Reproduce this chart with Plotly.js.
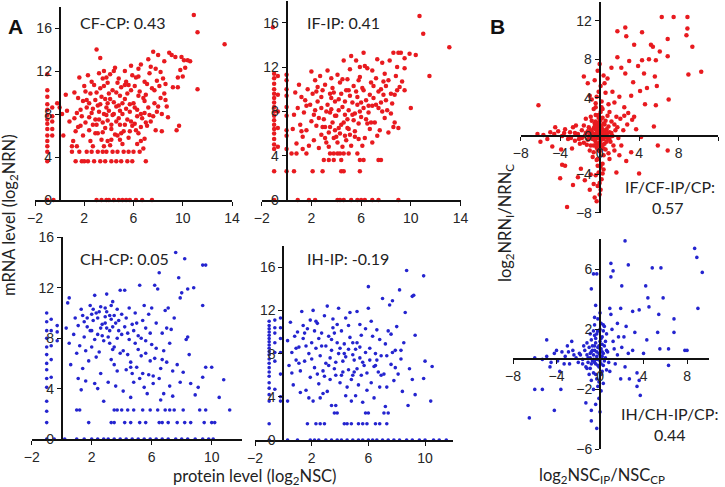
<!DOCTYPE html>
<html>
<head>
<meta charset="utf-8">
<script src="https://cdn.plot.ly/plotly-3.0.1.min.js"></script>
<style>
  html, body { margin: 0; padding: 0; background: #ffffff; }
  #grafico { width: 725px; height: 487px; }
</style>
</head>
<body>
<div id="grafico"></div>
<script>
// Pontos: [x, y]
// A, em cima à esquerda: CF-CP
const cfcpPontos = [
  [-1,11.7],[-1,10.2],[-1,9.6],[-1,8.9],[-1,8.4],[-1,7.9],[-1,7.5],[-1,7.1],[-1,6.6],[-1,6.0],[-1,5.5],[-1,5.0],[-1,4.5],[-1,3.6],[-1,0],
  [-0.6,8.6],[-0.6,7.8],[-0.6,7.3],[-0.6,6.6],[-0.6,6.0],[-0.5,0],
  [-0.2,9.0],[0,8.6],[0.2,8.0],[0.5,9.8],[0.3,6.0],[0.6,8.3],[0.8,7.3],
  [1.2,10.0],[1.4,8.1],[1.5,9.5],[1.6,11.4],[1.7,6.9],[1.8,7.8],[1.9,9.2],[1.1,5.5],[1.3,6.4],[1.5,6.8],[2.0,10.6],[2.2,8.6],[2.1,7.2],[1.9,6.0],[1.6,4.5],[1.3,3.6],[1.8,3.6],[1.0,5.0],[1.4,5.0],[1.0,4.5],
  [2.3,11.6],[2.5,9.9],[2.6,8.1],[2.7,7.0],[2.4,6.5],[2.8,10.7],[2.9,9.3],[2.5,5.5],[2.2,4.5],[2.6,4.5],[2.8,3.6],[2.3,3.6],[2.7,5.0],[3.0,14.0],[2.9,6.2],[2.4,7.7],[2.1,10.1],[2.6,11.0],[2.0,3.6],
  [3.1,8.8],[3.2,7.5],[3.3,13.2],[3.3,10.4],[3.4,9.6],[3.5,11.3],[3.6,8.0],[3.7,6.7],[3.8,7.9],[3.9,9.0],[3.1,6.2],[3.2,11.8],[3.4,5.6],[3.5,4.5],[3.8,4.5],[3.1,4.5],[3.3,3.6],[3.7,3.6],[3.9,10.9],[3.6,12.0],[3.5,7.2],[3.8,8.6],[3.0,10.0],[3.4,0],[3.8,0],[3.0,0],[3.6,5.0],[3.9,5.5],[3.2,8.2],[3.7,9.4],
  [4.0,8.3],[4.1,11.7],[4.2,7.0],[4.3,10.2],[4.4,9.1],[4.5,6.1],[4.6,8.7],[4.7,10.9],[4.8,7.6],[4.9,5.6],[4.1,5.1],[4.3,4.5],[4.7,4.5],[4.2,3.6],[4.6,3.6],[4.5,12.3],[4.9,9.7],[4.0,0],[4.4,0],[4.8,0],[4.2,6.6],[4.6,7.3],[4.8,11.3],[4.4,12.0],[4.0,9.9],[4.9,8.3],[4.3,7.9],[4.7,6.0],
  [5.0,10.5],[5.1,8.0],[5.2,6.4],[5.3,9.4],[5.4,11.0],[5.5,7.5],[5.6,5.8],[5.7,8.9],[5.8,10.2],[5.9,6.9],[5.2,4.5],[5.6,4.5],[5.0,3.6],[5.5,3.6],[5.9,3.6],[5.3,12.0],[5.8,12.5],[5.1,5.2],[5.4,0],[5.7,0],[5.1,0],[5.5,9.9],[5.9,11.6],[5.3,7.0],[5.7,8.2],
  [6.0,9.0],[6.1,7.1],[6.2,11.4],[6.3,8.4],[6.4,6.2],[6.5,10.1],[6.6,12.6],[6.7,7.6],[6.8,9.5],[6.9,5.7],[6.0,4.5],[6.5,4.5],[6.3,5.2],[6.8,4.8],[6.2,0],[6.7,0],[7.0,3.6],[6.9,8.1],[6.4,12.2],[6.1,10.6],[6.6,6.8],[6.9,11.0],[6.3,7.8],
  [7.0,9.8],[7.2,8.6],[7.3,11.8],[7.4,7.3],[7.5,10.4],[7.6,13.8],[7.2,13.1],[7.7,9.0],[7.8,6.5],[7.9,8.2],[7.1,6.9],[7.4,12.4],[7.5,0],[7.9,11.1],[7.6,7.8],
  [8.0,13.5],[8.2,9.5],[8.3,8.0],[8.4,11.3],[8.5,12.9],[8.6,9.3],[8.8,7.7],[8.9,13.7],[8.1,10.6],[8.7,8.7],[8.3,6.4],[8.5,9.9],
  [9.2,10.5],[9.4,13.3],[9.5,6.5],[9.6,10.5],[9.7,6.9],[9.8,12.1],[9.9,13.3],[10.0,11.5],[10.2,12.3],[10.4,13.0],[10.6,12.9],[9.6,11.4],[11.2,10.3],[10.9,17.2],[11.2,15.6],[13.4,14.5],[9.1,13.5],[10.1,13.0],
  [2.2,9.3],[2.7,8.5],[3.0,7.0],[3.3,8.9],[3.6,10.6],[3.9,7.4],[4.1,9.4],[4.4,8.0],[4.6,10.0],[4.9,7.0],[5.1,9.0],[5.4,8.5],[5.6,10.7],[5.8,7.3],[6.1,8.6],[6.4,9.7],[6.6,8.0],[6.9,9.2],[7.1,10.8],[7.3,7.9],
  [7.7,10.2],[8.0,8.7],[8.2,11.9],[3.5,6.3],[4.2,5.6],[5.0,6.2],[5.7,6.4],[6.6,5.5],[2.9,7.5],[4.8,8.8],[5.3,10.7],[6.2,6.5],[7.0,7.2],[3.8,11.4],[2.4,9.0],[1.7,8.4],[1.2,7.6],[6.4,11.5],[7.8,12.2],[8.6,10.8]
];

// A, em cima à direita: IF-IP
const ifipPontos = [
  [-1.1,15.6],[-1,11.4],[-1,11.0],[-1,10.5],[-1,10.0],[-1,9.6],[-1,9.2],[-1,8.8],[-1,8.4],[-1,8.0],[-1,7.6],[-1,7.2],[-1,6.8],[-1,6.4],[-1,6.0],[-1,5.5],[-1,5.0],[-1,4.6],[-1,2.6],[-1,0],
  [-0.7,11.2],[-0.7,9.5],[-0.7,8.0],[-0.7,6.5],[-0.7,4.8],
  [0,11.3],[0,10.8],[0,10.0],[0,9.4],[0,8.4],[0,7.6],[0,6.3],[0,5.8],[0,4.6],[0,2.6],
  [0.9,0],[1.8,0],[2.3,0],[4.1,0],[4.3,0],[4.6,0],[5.2,0],[5.7,0],[6.0,0],[6.3,0],[6.9,0],[7.4,0],[9.0,0],
  [0.6,2.6],[2.1,2.6],[2.9,2.6],[4.4,2.6],[4.6,2.6],[5.9,2.6],
  [3.0,3.6],[3.4,3.6],[3.8,3.6],[4.4,3.6],[5.9,3.6],[6.2,3.6],[7.4,3.6],[7.6,3.6],
  [0.4,4.2],[0.8,4.2],[1.6,4.2],[3.5,4.2],[3.8,4.2],[4.1,4.2],[4.3,4.2],[4.6,4.2],[5.0,4.2],[5.7,4.2],
  [0.5,6.4],[0.6,7.7],[0.8,5.1],[0.9,8.3],[1.0,10.4],[1.1,6.8],[1.2,9.3],[1.3,5.7],[1.4,7.9],[1.5,9.0],[1.6,6.3],[1.7,10.0],[1.8,4.9],[1.9,8.6],[2.0,11.6],[2.0,7.1],[1.3,4.6],[0.7,9.7],
  [2.1,9.6],[2.2,5.4],[2.3,10.8],[2.4,6.7],[2.5,8.9],[2.6,7.4],[2.7,11.2],[2.8,5.9],[2.9,9.9],[2.3,8.1],[2.6,4.7],[2.9,6.6],[2.5,10.2],[2.8,8.3],
  [3.0,7.3],[3.1,10.4],[3.2,5.2],[3.3,8.6],[3.4,6.1],[3.5,9.6],[3.6,11.0],[3.7,7.0],[3.8,5.6],[3.9,8.9],[3.1,6.6],[3.3,11.7],[3.5,7.9],[3.7,10.1],[3.9,6.3],[3.4,4.8],[3.6,8.2],[3.8,9.7],
  [4.0,7.6],[4.1,5.2],[4.2,9.1],[4.3,10.6],[4.4,6.8],[4.5,8.4],[4.6,12.6],[4.7,5.8],[4.8,9.9],[4.9,7.3],[4.1,11.3],[4.3,6.0],[4.5,4.8],[4.7,8.9],[4.9,10.9],[4.2,8.1],[4.6,7.0],[4.8,5.4],
  [5.0,6.4],[5.1,9.4],[5.2,13.0],[5.3,7.7],[5.4,10.3],[5.5,5.7],[5.6,12.6],[5.7,8.6],[5.8,6.9],[5.9,11.1],[5.0,8.1],[5.2,4.9],[5.4,7.2],[5.6,9.8],[5.8,10.8],[5.1,11.8],[5.5,6.2],[5.9,8.0],
  [6.0,7.5],[6.1,10.1],[6.2,13.3],[6.3,5.6],[6.4,9.0],[6.5,11.9],[6.6,7.9],[6.7,6.4],[6.8,10.6],[6.9,8.5],[6.1,4.9],[6.3,12.1],[6.5,6.9],[6.7,9.5],[6.9,5.2],[6.2,8.3],
  [7.0,9.2],[7.1,7.0],[7.2,11.0],[7.3,12.7],[7.4,8.3],[7.5,6.3],[7.6,10.0],[7.7,12.4],[7.8,9.5],[7.9,7.4],[7.3,5.8],[7.6,8.8],[7.9,11.4],
  [8.0,10.3],[8.1,8.1],[8.2,6.1],[8.3,12.6],[8.4,9.6],[8.6,13.3],[8.7,7.0],[8.8,11.2],[8.9,12.0],[8.5,8.7],[8.6,6.6],[8.9,9.9],
  [9.0,13.3],[9.2,13.3],[9.1,10.2],[9.5,11.9],[9.5,9.9],[9.0,6.5],[9.5,12.8],[9.9,13.2],[10.0,8.3],[10.4,13.1],[11.5,11.2],[10.7,16.6],[11.0,15.0],[13.1,13.8],[9.3,10.7],
  [2.2,7.7],[2.8,9.3],[3.2,8.0],[3.5,6.6],[3.9,7.6],[4.2,6.5],[4.4,9.6],[4.7,7.7],[5.0,9.9],[5.3,8.8],[5.5,7.8],[5.7,9.3],[6.0,8.8],[6.2,9.9],[6.4,7.3],[6.6,8.5],[6.8,7.0],[7.0,10.3],[7.2,8.6],
  [7.4,9.8],[7.7,8.0],[8.0,9.0],[8.2,10.8],[8.4,7.8],[3.1,5.6],[4.0,5.7],[5.1,5.9],[5.8,5.5],[2.4,9.8],[1.6,8.5],[1.2,6.2],[4.5,10.9],[5.9,12.0],[6.9,11.7],[7.8,10.7],[8.7,9.5],[3.6,9.2],[4.9,6.5]
];

// A, em baixo à esquerda: CH-CP
const chcpPontos = [
  [-1,10.0],[-1,9.3],[-1,8.6],[-1,8.0],[-1,7.3],[-1,6.7],[-1,6.0],[-1,5.5],[-1,4.8],[-1,4.1],[-1,3.0],[-1,2.2],[-1,1.3],[-1,0],
  [-0.7,9.5],[-0.7,8.6],[-0.7,7.4],[-0.7,6.3],[-0.7,4.9],[-0.3,9.0],[-0.3,8.5],[-0.3,7.8],
  [-0.5,0],[0.2,0],[1.0,0],[1.5,0],[2.0,0],[2.4,0],[2.8,0],[3.1,0],[3.5,0],[3.9,0],[4.3,0],[4.7,0],[5.1,0],[5.5,0],[5.9,0],[6.3,0],[6.7,0],[7.1,0],[7.6,0],[8.0,0],[8.4,0],[8.9,0],[9.4,0],[9.8,0],[10.1,0],
  [1.8,1.3],[3.3,1.3],[3.5,1.3],[4.2,1.3],[4.6,1.3],[5.2,1.3],[5.6,1.3],[6.5,1.3],[6.7,1.3],[7.1,1.3],[7.7,1.3],[8.2,1.3],[8.6,1.3],[9.5,1.3],[10.0,1.3],[10.2,1.3],
  [1.0,2.3],[1.2,2.3],[3.5,2.3],[3.7,2.3],[4.0,2.3],[4.4,2.3],[4.8,2.3],[5.4,2.3],[5.9,2.3],[6.4,2.3],[6.9,2.3],[7.2,2.3],[7.5,2.3],[8.1,2.3],[9.2,2.3],[9.6,2.3],[11.2,2.3],
  [0.3,8.8],[0.4,10.8],[0.5,11.2],[0.5,7.6],[0.6,5.9],[0.8,8.3],[0.9,9.6],
  [1.0,6.8],[1.1,9.0],[1.2,7.4],[1.3,10.3],[1.4,5.6],[1.5,8.1],[1.6,4.6],[1.7,9.6],[1.8,6.2],[1.9,10.6],[1.1,4.8],[1.3,3.9],[1.6,7.0],[1.9,8.6],[1.4,9.8],
  [2.0,7.3],[2.1,9.4],[2.2,11.4],[2.3,6.5],[2.4,8.3],[2.5,10.1],[2.6,5.2],[2.7,9.1],[2.8,7.8],[2.9,10.4],[2.2,4.4],[2.5,6.9],[2.8,3.0],[2.3,10.0],[2.6,8.8],[2.9,9.7],[2.0,8.6],[2.4,4.0],
  [3.0,11.5],[3.1,8.1],[3.2,9.8],[3.3,6.3],[3.4,10.9],[3.5,7.3],[3.6,9.2],[3.7,5.4],[3.8,8.6],[3.9,11.8],[3.1,4.5],[3.3,9.5],[3.5,5.9],[3.7,10.3],[3.9,6.8],[3.2,7.6],[3.6,4.2],[3.4,8.9],
  [4.0,9.9],[4.1,7.0],[4.2,11.8],[4.3,5.5],[4.4,8.4],[4.5,10.4],[4.6,6.1],[4.7,9.1],[4.8,4.5],[4.9,7.6],[4.1,3.8],[4.4,6.7],[4.7,5.2],[4.9,10.0],[4.2,8.9],[4.6,3.3],
  [5.0,5.7],[5.1,8.2],[5.2,12.2],[5.3,6.6],[5.4,9.4],[5.5,4.1],[5.6,7.8],[5.7,3.6],[5.8,9.9],[5.9,6.2],[5.2,4.8],[5.5,10.6],[5.8,5.1],[5.1,7.1],[5.6,8.8],
  [6.0,7.5],[6.1,4.4],[6.2,12.2],[6.3,9.2],[6.4,11.9],[6.5,13.2],[6.6,5.6],[6.7,8.4],[6.8,3.6],[6.9,10.2],[6.2,6.4],[6.5,4.8],[6.8,7.0],[6.0,10.4],[6.6,3.1],
  [7.0,6.1],[7.1,10.4],[7.2,4.2],[7.3,8.7],[7.4,3.4],[7.6,14.8],[7.7,5.9],[7.8,12.8],[7.9,11.2],[7.2,7.6],[7.5,9.6],[7.9,4.5],
  [8.0,11.6],[8.2,14.3],[8.3,7.9],[8.4,11.9],[8.5,6.7],[8.6,4.4],[8.8,12.0],[8.9,3.5],[8.4,8.1],[8.1,5.3],
  [9.1,4.1],[9.4,13.8],[9.6,13.8],[9.4,10.6],[9.4,4.9],[9.6,5.7],[10.0,5.7],[10.5,3.3],[10.8,4.7],
  [1.7,8.9],[2.1,10.3],[2.4,9.6],[2.7,8.2],[2.9,9.2],[3.0,10.1],[3.2,8.6],[3.3,10.6],[3.5,9.8],[3.7,8.0],[3.8,9.4],[4.0,8.3],[4.3,9.6],[4.5,7.9],[4.8,8.6],[5.0,9.2],
  [5.3,8.0],[5.6,6.8],[5.9,8.4],[6.3,7.2],[6.7,6.3],[7.0,8.8],[7.4,5.4],[1.5,9.3],[2.2,7.9],[2.6,10.5],[3.4,7.1],[4.6,5.7],[5.4,5.2],[6.1,5.0],[3.0,8.8],[2.0,9.9]
];

// A, em baixo à direita: IH-IP
const ihipPontos = [
  [-1,11.0],[-1,10.6],[-1,10.3],[-1,10.0],[-1,9.7],[-1,9.4],[-1,9.1],[-1,8.8],[-1,8.5],[-1,8.2],[-1,7.9],[-1,7.5],[-1,7.1],[-1,6.7],[-1,6.3],[-1,5.9],[-1,5.3],[-1,4.8],[-1,4.2],[-1,3.6],[-1,1.5],[-1,0],
  [-0.6,11.1],[-0.6,10.4],[-0.6,9.9],[-0.6,9.0],[-0.6,8.1],[-0.6,7.3],[-0.6,4.7],
  [-0.2,11.3],[-0.2,10.4],[-0.2,9.4],[-0.2,8.1],[-0.2,6.1],[-0.2,4.0],[-0.2,3.6],
  [0.3,0],[1.0,0],[1.9,0],[2.2,0],[2.5,0],[3.0,0],[3.4,0],[3.8,0],[4.1,0],[4.5,0],[4.9,0],[5.3,0],[5.6,0],[6.0,0],[6.3,0],[6.6,0],[7.0,0],[7.4,0],[7.8,0],[8.2,0],[8.7,0],[9.1,0],[9.6,0],[10.0,0],[10.6,0],[11.0,0],[11.5,0],
  [1.7,1.5],[2.3,1.5],[2.6,1.5],[2.9,1.5],[4.3,1.5],[4.5,1.5],[4.8,1.5],[5.3,1.5],[5.6,1.5],[5.9,1.5],[6.5,1.5],[6.8,1.5],[7.3,1.5],
  [3.6,2.5],[3.8,2.5],[5.8,2.5],[6.0,2.5],[7.1,2.5],[7.4,2.5],
  [0.3,9.2],[0.4,6.9],[0.5,10.9],[0.6,8.1],[0.7,5.1],[0.8,9.6],[0.9,7.4],[0.3,3.6],[0.6,6.2],
  [1.0,10.0],[1.1,8.6],[1.2,6.4],[1.3,11.9],[1.4,9.4],[1.5,7.3],[1.6,4.6],[1.7,10.3],[1.8,8.0],[1.9,5.8],[1.2,4.4],[1.5,9.9],[1.8,3.9],[1.1,7.1],[1.9,11.1],
  [2.0,9.0],[2.1,12.0],[2.2,6.7],[2.3,8.5],[2.4,10.8],[2.5,5.2],[2.6,7.8],[2.7,9.9],[2.8,4.3],[2.9,11.5],[2.1,3.6],[2.4,6.1],[2.7,8.7],[2.9,5.9],[2.2,10.1],[2.6,3.9],
  [3.0,7.1],[3.1,12.4],[3.2,9.6],[3.3,5.6],[3.4,8.3],[3.5,10.4],[3.6,6.6],[3.7,3.2],[3.8,9.0],[3.9,12.2],[3.1,4.5],[3.3,7.6],[3.5,11.2],[3.7,6.0],[3.9,8.0],[3.4,3.2],[3.6,9.9],
  [4.0,5.3],[4.1,10.1],[4.2,7.3],[4.3,8.9],[4.4,11.3],[4.5,4.9],[4.6,6.5],[4.7,9.5],[4.8,3.6],[4.9,7.9],[4.1,6.0],[4.4,4.1],[4.6,10.6],[4.8,5.6],[4.3,8.0],[4.9,9.0],
  [5.0,6.3],[5.1,8.4],[5.2,11.9],[5.3,5.1],[5.4,7.6],[5.5,9.7],[5.6,3.5],[5.7,6.9],[5.8,10.3],[5.9,4.6],[5.2,9.0],[5.5,6.0],[5.8,8.1],[5.1,4.1],[5.4,10.7],
  [6.0,14.2],[6.0,12.2],[6.1,7.4],[6.2,5.3],[6.3,9.6],[6.4,3.9],[6.5,8.0],[6.6,10.2],[6.7,6.3],[6.8,4.9],[6.9,7.8],[6.2,11.0],[6.5,6.9],[6.8,9.3],[7.0,13.1],
  [7.1,6.1],[7.2,8.9],[7.3,4.9],[7.4,10.1],[7.5,12.5],[7.6,7.0],[7.7,12.9],[7.8,5.5],[7.9,8.3],[7.2,3.1],[7.6,9.8],[7.9,6.7],
  [8.0,10.5],[8.2,13.9],[8.3,7.5],[8.4,4.5],[8.5,9.0],[8.6,11.8],[8.7,15.7],[8.8,3.2],[8.9,6.6],[8.3,8.3],
  [9.1,13.3],[9.2,13.4],[9.1,5.6],[9.3,4.2],[9.3,9.7],[9.9,5.7],[9.9,15.2],[10.0,7.3],[10.4,3.6],[10.5,6.8],
  [1.6,8.7],[2.0,7.5],[2.5,9.4],[2.8,6.4],[3.0,8.7],[3.2,6.9],[3.4,9.3],[3.7,7.2],[4.0,8.5],[4.2,6.3],[4.4,7.7],[4.6,8.4],[4.9,6.0],[5.0,7.4],[5.2,6.6],
  [5.4,8.6],[5.6,7.2],[5.9,6.2],[6.1,8.5],[6.4,6.8],[6.6,7.4],[6.9,6.0],[7.3,7.8],[7.7,8.1],[8.1,6.1],[0.9,8.5],[1.4,10.6],[2.3,11.0],[3.8,10.7],[4.7,11.8]
];

// B, em cima: IF/CF contra IP/CP
const razaoFPontos = [
  [-1.4,0.3],[-1.2,-0.4],[-1.1,0.9],[-1.0,0.1],[-0.9,-1.0],[-0.8,0.5],[-0.8,1.6],[-0.7,-0.3],[-0.6,0.8],[-0.6,-1.7],[-0.5,0.2],[-0.5,1.3],[-0.4,-0.6],[-0.4,2.2],[-0.3,0.4],[-0.3,-1.2],[-0.2,1.0],[-0.2,-0.2],[-0.1,0.6],[-0.1,-0.9],
  [0.0,0.0],[0.0,1.5],[0.0,-1.6],[0.1,0.3],[0.1,-0.5],[0.2,0.9],[0.2,-1.1],[0.3,0.1],[0.3,1.9],[0.4,-0.3],[0.4,0.6],[0.5,-0.8],[0.5,1.2],[0.6,0.2],[0.6,-1.4],[0.7,0.7],[0.8,-0.2],[0.9,1.0],[1.0,0.4],[1.1,-0.6],
  [1.2,1.5],[1.3,0.0],[-1.3,-0.9],[-0.9,2.0],[-0.7,-2.2],[0.1,2.5],[0.8,2.1],[1.4,-1.0],[-1.6,1.1],[-0.2,-2.4],[0.4,-2.0],[-0.6,0.0],[0.2,0.0],[-0.3,0.9],[0.6,1.6],[-1.0,-1.5],[1.6,0.6],[-1.8,-0.2],[0.9,-1.8],[-0.1,1.9],
  [-0.5,-0.4],[-0.4,0.7],[-0.2,0.3],[-0.1,-0.2],[0.0,0.5],[0.0,-0.7],[0.1,1.1],[0.2,-0.3],[0.3,0.6],[0.3,-0.9],[0.5,0.4],[-0.6,-1.0],[-0.8,-0.1],[-0.2,-1.4],[0.1,1.7],[-0.4,1.5],[0.7,-0.6],[-0.9,0.6],
  [0.4,1.3],[-0.1,2.2],[0.6,-0.1],[-0.3,-0.8],[0.2,0.6],[-0.7,0.2],[0.0,0.2],[-0.5,1.0],[0.8,0.3],[0.4,-1.3],[-1.1,-0.3],[-0.3,0.0],[0.1,-0.1],[-0.2,1.3],[1.0,-0.3],[-1.2,0.5],
  [0.3,2.8],[-0.4,3.0],[0.2,3.6],[-0.1,4.6],[0.5,5.5],[-0.8,3.8],[-2.5,0.3],[-3.6,0.3],[-4.6,0.2],[-5.3,-0.3],[-2.9,-0.2],[-1.5,0.0],[-2.1,-0.3],[-1.4,1.8],[1.8,0.9],[2.1,1.8],[0.3,-3.9],[-0.2,-3.1],[0.0,-4.9],[-0.3,-6.8],
  [-6.3,0.2],[-5.7,0.1],[-5.0,0.4],[-4.5,0.9],[-4.2,0.5],[-3.8,0.0],[-3.5,0.7],[-3.2,-0.3],[-3.0,0.4],[-2.7,0.9],[-2.5,-0.5],[-2.2,0.2],[-2.0,-0.8],[-1.8,0.6],[-4.8,-1.1],[-3.9,-1.4],[-2.8,-1.3],[-6.0,-0.6],[-2.4,1.1],[-1.6,-0.7],
  [-0.3,-2.5],[0.1,-3.2],[-0.1,-3.8],[0.2,-4.5],[-0.2,-5.2],[0.0,-6.1],[-0.4,-4.1],[0.3,-2.9],[-0.5,-6.4],[0.4,-3.5],[-0.6,-5.0],[0.1,-5.6],
  [-6.2,3.2],[-3.8,-3.0],[-4.0,-4.4],[-2.2,-4.3],[-1.5,-4.6],[-1.0,-5.6],[-2.7,-5.1],[-3.5,-3.1],[-1.9,-3.4],[-0.9,-4.0],[-3.3,-7.4],
  [1.5,-1.5],[2.2,-1.0],[2.7,-2.6],[1.0,-2.4],[3.2,-1.7],[1.7,-3.8],[4.0,-3.9],[5.9,-1.0],[6.9,-1.5],[2.0,-2.0],[4.2,-0.1],
  [0.2,3.0],[-0.3,4.1],[0.1,5.2],[-0.5,5.8],[0.4,6.3],[-0.2,6.8],[0.6,4.5],[-0.4,3.4],[0.0,7.5],[0.8,6.0],[-1.2,5.5],[-1.6,6.2],[-1.0,4.2],[-0.6,2.8],
  [1.8,8.2],[1.8,10.9],[2.6,11.3],[2.7,10.4],[3.5,9.5],[4.3,10.8],[5.2,9.5],[6.3,12.4],[7.5,12.4],[8.9,12.4],[8.8,10.5],[8.9,11.2],[6.9,10.1],[6.1,8.8],[9.4,9.3],[6.9,8.3],
  [5.4,9.3],[5.7,7.9],[5.0,8.0],[4.3,7.9],[3.9,7.3],[3.0,7.8],[2.2,7.1],[1.2,7.1],[2.6,6.5],[3.4,5.6],[4.5,6.5],[5.6,6.2],[5.8,5.2],[4.8,5.0],[3.2,4.2],[2.0,4.1],
  [1.5,3.5],[2.5,3.0],[1.0,2.5],[1.7,2.0],[2.9,2.4],[3.3,1.7],[3.5,2.0],[4.6,3.3],[5.7,3.2],[4.1,4.7],[7.0,3.8],[5.5,1.0],[9.0,6.4],[10.3,6.7],[2.5,2.1],[1.5,1.2],
  [3.7,0.7],[2.4,0.6],[1.2,0.3],[1.9,-0.2],[2.8,1.2],[1.3,4.6],[0.9,3.3]
];

// B, em baixo: IH/CH contra IP/CP
const razaoHPontos = [
  [-1.2,0.3],[-1.1,-0.2],[-1.0,0.8],[-0.9,0.1],[-0.9,-0.6],[-0.8,0.5],[-0.8,1.3],[-0.7,-0.1],[-0.7,0.9],[-0.6,0.3],[-0.6,-0.9],[-0.5,1.6],[-0.5,0.6],[-0.4,-0.3],[-0.4,1.1],[-0.3,0.2],[-0.3,-1.3],[-0.2,0.8],[-0.2,1.9],[-0.1,-0.5],
  [-0.1,0.4],[0.0,1.2],[0.0,-0.1],[0.1,0.7],[0.1,-1.0],[0.2,0.2],[0.2,1.5],[0.3,-0.4],[0.4,0.9],[0.5,0.1],[0.6,-0.7],[-1.4,0.6],[-1.3,-0.5],[-0.5,2.3],[0.0,2.0],[-0.2,-1.8],[0.3,1.9],[0.7,0.5],[-1.6,0.0],[-0.8,-1.4],
  [0.1,-2.1],[-0.4,0.0],[0.2,0.5],[-0.6,1.9],[0.5,1.2],[-1.0,-1.0],[0.8,-0.2],[-0.1,-2.6],
  [-0.7,0.6],[-0.5,-0.2],[-0.3,0.5],[-0.2,-0.4],[-0.1,0.9],[0.0,0.3],[0.1,-0.3],[0.2,1.0],[0.3,0.4],[-0.4,1.4],[-0.6,0.0],[-0.9,0.4],[-1.1,0.1],[0.4,-0.1],[-0.2,0.0],[0.0,0.7],[-0.3,1.7],[0.1,1.4],
  [-0.8,-0.3],[-0.5,0.9],[0.2,-0.8],[-1.2,-0.6],[0.6,0.6],[-0.4,-1.0],[0.1,2.4],[-0.2,2.7],[0.4,2.2],[-0.9,1.7],[-1.8,0.3],[-2.0,-0.2],[-2.4,0.3],[-2.9,0.5],[-3.3,-0.3],[-4.0,0.6],[-1.5,0.9],[-1.2,1.1],
  [0.6,1.7],[1.3,0.7],[1.7,1.5],[-0.1,-1.5],[0.3,-1.6],[-0.6,-2.0],[0.0,-3.5],
  [-6.0,0.1],[-5.3,0.0],[-4.9,0.2],[-4.6,-0.5],[-4.5,-0.2],[-4.2,0.4],[-3.9,-0.1],[-3.7,-0.8],[-3.5,0.5],[-3.2,0.2],[-3.0,0.9],[-2.8,-0.3],[-2.5,0.6],[-2.2,0.1],[-1.9,0.4],[-1.6,-0.3],[-4.9,1.3],[-2.6,1.2],
  [-6.0,-2.0],[-5.3,-2.0],[-3.6,-2.0],[-4.2,-3.4],[-6.5,-3.9],[-1.3,-2.9],[-0.8,-3.4],[-0.8,-4.1],[-0.3,-4.6],[-0.4,-3.0],
  [-0.6,5.7],[-0.3,5.7],[-0.8,4.7],[-0.4,3.6],[-0.5,2.8],[0.0,3.1],[0.3,2.3],[-0.2,1.9],
  [2.3,7.9],[1.0,6.4],[1.2,5.9],[1.0,5.5],[2.0,4.9],[2.6,6.3],[4.8,6.1],[5.6,6.1],[4.2,4.9],[4.4,4.1],[4.5,3.5],[5.8,4.1],[5.4,3.0],[8.7,7.4],[8.9,6.8],[9.4,5.8],[9.0,3.4],
  [6.8,2.7],[6.8,1.8],[5.3,1.8],[3.6,3.3],[3.0,3.2],[1.9,3.4],[0.9,3.4],[1.0,3.0],[1.6,2.4],[2.4,2.2],[3.2,1.8],[4.3,1.3],[6.3,0.7],[7.8,0.6],[8.0,0.6],[5.5,0.7],
  [6.3,-0.4],[2.3,-0.5],[1.9,-1.3],[2.7,-1.3],[3.6,-1.4],[3.4,-1.8],[3.7,-2.4],[3.4,-0.9],[0.9,-0.8],
  [1.2,1.2],[1.6,0.3],[2.0,0.8],[2.6,0.4],[1.4,-0.3],[3.0,0.6],[1.1,2.0],[2.2,1.5],[4.0,0.4]
];

// Textos dos painéis
const rotulosCorrelacao = ['CF-CP: 0.43', 'IF-IP: 0.41', 'CH-CP: 0.05', 'IH-IP: -0.19'];
const rotulosB = ['IF/CF-IP/CP:', '0.57', 'IH/CH-IP/CP:', '0.44'];

const W = 725, H = 487;
const fx = p => p / W;
const fy = p => 1 - p / H;

const corVermelha = '#e81a1f';
const corAzul = '#2424cf';
const fonteTicks = { family: 'Liberation Sans, Arial, sans-serif', size: 14, color: '#262626' };
const fonteTexto = 'Lato, Open Sans, sans-serif';

// posição (fração do papel) do valor zero dentro de um eixo
function posicaoZero(dominio, faixa) {
    return dominio[0] + (0 - faixa[0]) / (faixa[1] - faixa[0]) * (dominio[1] - dominio[0]);
}

function eixo(faixa, dominio, tick0, dtick) {
    return {
        range: faixa,
        domain: dominio,
        tickmode: 'linear',
        tick0: tick0,
        dtick: dtick,
        showgrid: false,
        zeroline: false,
        showline: true,
        linecolor: '#111',
        linewidth: 1.8,
        ticks: 'outside',
        ticklen: 4,
        tickwidth: 1.2,
        tickcolor: '#111',
        tickfont: fonteTicks,
        fixedrange: true
    };
}

// painéis: faixas e domínios em pixels
const paineis = [
    { pts: cfcpPontos, cor: corVermelha, tam: 4.5, xr: [-2, 14], yr: [0, 18], xd: [35, 232], yd: [200, 6.5], yt0: 0, xt0: -2, tipo: 'A' },
    { pts: ifipPontos, cor: corVermelha, tam: 4.5, xr: [-2, 14], yr: [0, 18], xd: [261.7, 460.5], yd: [200, 0.6], yt0: 0, xt0: -2, tipo: 'A' },
    { pts: chcpPontos, cor: corAzul, tam: 3.6, xr: [-2, 12], yr: [0, 16], xd: [31.7, 241.7], yd: [439, 237.4], yt0: 0, xt0: -2, tipo: 'A' },
    { pts: ihipPontos, cor: corAzul, tam: 3.6, xr: [-2, 12], yr: [0, 18], xd: [255, 453.4], yd: [440, 245.6], yt0: 0, xt0: -2, tipo: 'A' },
    { pts: razaoFPontos, cor: corVermelha, tam: 4.5, xr: [-8, 12], yr: [-8, 14], xd: [520.7, 718], yd: [212.8, 1.6], yt0: -8, xt0: -8, tipo: 'B' },
    { pts: razaoHPontos, cor: corAzul, tam: 3.6, xr: [-8, 10], yr: [-6, 8], xd: [513, 708.8], yd: [449.4, 239.4], yt0: -6, xt0: -8, tipo: 'B' }
];

const data = [];
const layout = {
    width: W,
    height: H,
    margin: { l: 0, r: 0, t: 0, b: 0 },
    paper_bgcolor: '#ffffff',
    plot_bgcolor: 'rgba(0,0,0,0)',
    showlegend: false,
    annotations: []
};

paineis.forEach((p, i) => {
    const n = i === 0 ? '' : String(i + 1);
    const xd = [fx(p.xd[0]), fx(p.xd[1])];
    const yd = [fy(p.yd[0]), fy(p.yd[1])];

    data.push({
        type: 'scatter',
        mode: 'markers',
        x: p.pts.map(v => v[0]),
        y: p.pts.map(v => v[1]),
        xaxis: 'x' + n,
        yaxis: 'y' + n,
        cliponaxis: false,
        hoverinfo: 'skip',
        marker: { color: p.cor, size: p.tam, line: { width: 0 } }
    });

    const ex = eixo(p.xr, xd, p.xt0, 4);
    const ey = eixo(p.yr, yd, p.yt0, 4);
    ey.anchor = 'free';
    ey.position = posicaoZero(xd, p.xr);
    if (p.tipo === 'A') {
        ex.anchor = 'y' + n;
    } else {
        ex.anchor = 'free';
        ex.position = posicaoZero(yd, p.yr);
    }
    layout['xaxis' + n] = ex;
    layout['yaxis' + n] = ey;
});

function texto(t, x, y, opcoes) {
    layout.annotations.push(Object.assign({
        text: t,
        xref: 'paper', yref: 'paper',
        x: fx(x), y: fy(y),
        xanchor: 'center', yanchor: 'middle',
        showarrow: false,
        font: { family: fonteTexto, size: 16, color: '#222' }
    }, opcoes || {}));
}

// letras dos painéis
texto('<b>A</b>', 15, 26, { font: { family: 'Liberation Sans, Arial, sans-serif', size: 21, color: '#111' } });
texto('<b>B</b>', 497, 27, { font: { family: 'Liberation Sans, Arial, sans-serif', size: 21, color: '#111' } });

// correlações
texto(rotulosCorrelacao[0], 78, 22, { xanchor: 'left' });
texto(rotulosCorrelacao[1], 305, 22, { xanchor: 'left' });
texto(rotulosCorrelacao[2], 78, 258, { xanchor: 'left' });
texto(rotulosCorrelacao[3], 305, 258, { xanchor: 'left' });
texto(rotulosB[0], 670, 186);
texto(rotulosB[1], 668, 207);
texto(rotulosB[2], 669, 413);
texto(rotulosB[3], 670, 434);

// títulos dos eixos
const fonteTitulo = { family: fonteTexto, size: 16.5, color: '#222' };
texto('mRNA level (log<sub>2</sub>NRN)', 10, 215, { textangle: -90, font: fonteTitulo });
texto('protein level (log<sub>2</sub>NSC)', 255, 476, { font: fonteTitulo });
texto('log<sub>2</sub>NRN<sub>I</sub>/NRN<sub>C</sub>', 506, 223, { textangle: -90, font: fonteTitulo });
texto('log<sub>2</sub>NSC<sub>IP</sub>/NSC<sub>CP</sub>', 602, 475, { font: fonteTitulo });

Plotly.newPlot('grafico', data, layout, { displayModeBar: false });
</script>
</body>
</html>
